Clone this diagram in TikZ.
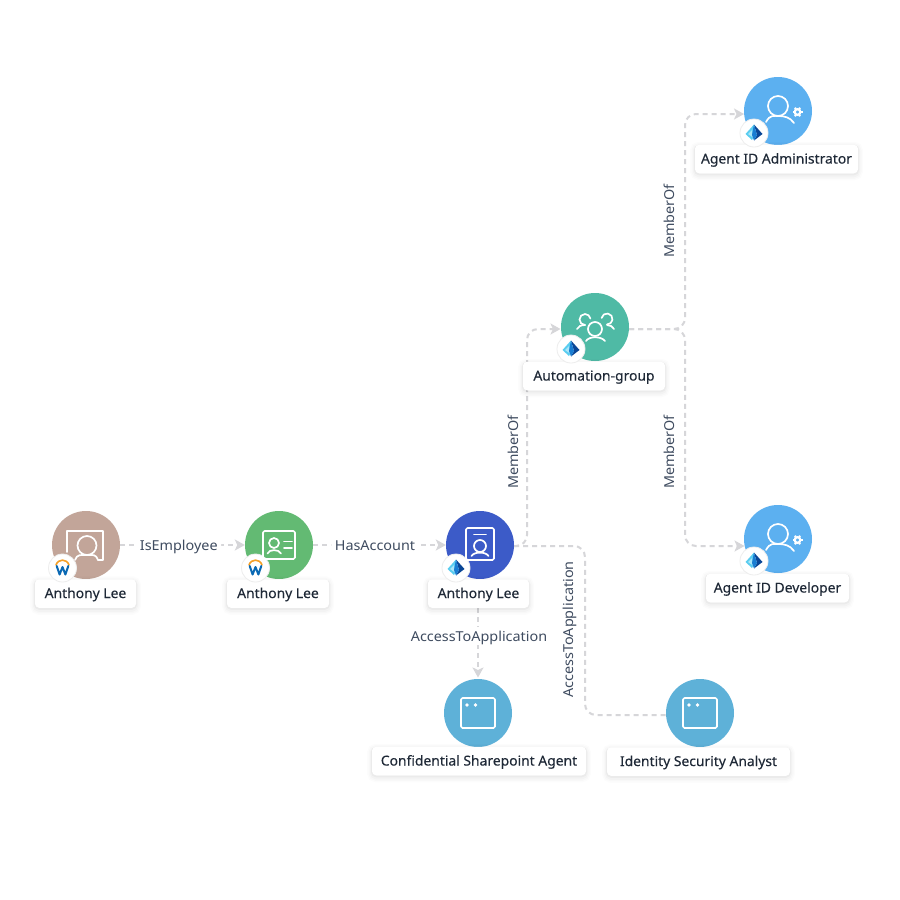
\documentclass[tikz,border=0pt]{standalone}
\usepackage{fontspec}
\setmainfont{Noto Sans}
\newfontfamily\boxfont{Noto Sans}[FakeBold=0.25,FakeStretch=1.02]
\newfontfamily\edgefont{Noto Sans}[FakeStretch=1.05]
\usetikzlibrary{arrows.meta}
\definecolor{edgegray}{HTML}{D6D6D9}
\definecolor{labtext}{HTML}{1F2937}
\definecolor{edgetext}{HTML}{3F4C60}
\definecolor{cTaupe}{HTML}{C2A599}
\definecolor{cGreen}{HTML}{63BA73}
\definecolor{cBlue}{HTML}{3C5BC8}
\definecolor{cTeal}{HTML}{4FBAA5}
\definecolor{cSky}{HTML}{5CB0F0}
\definecolor{cApp}{HTML}{5EB1D8}
\tikzset{
  ent/.style={circle,minimum size=68pt,inner sep=0pt,fill=#1},
  namebox/.style={rectangle,rounded corners=4pt,fill=white,inner sep=0pt,minimum height=28.5pt,text=labtext,
    text height=10pt,text depth=1pt,
    font=\boxfont\fontsize{13.6}{16}\selectfont,
    preaction={draw=black,draw opacity=.012,line width=10pt,transform canvas={yshift=-2pt}},
    preaction={draw=black,draw opacity=.016,line width=7pt,transform canvas={yshift=-2pt}},
    preaction={draw=black,draw opacity=.02,line width=4pt,transform canvas={yshift=-2pt}},
    preaction={draw=black,draw opacity=.03,line width=2pt,transform canvas={yshift=-1pt}}},
  badge/.style={circle,minimum size=28pt,inner sep=0pt,fill=white,draw=black!7,line width=.8pt},
  edge/.style={draw=edgegray,line width=2pt,dash pattern=on 5pt off 4pt,rounded corners=11pt},
  arrowed/.style={-{Stealth[length=10pt,width=11pt,inset=2.5pt,fill=edgegray]}},
  edgelab/.style={text=edgetext,font=\edgefont\fontsize{13.7}{16}\selectfont,inner sep=3.5pt},
  edgelabh/.style={edgelab,fill=white,text height=11pt,text depth=0pt},
  icon/.style={draw=white,line width=1.7pt,line cap=round,line join=round},
  azure/.pic={
    \fill[color={rgb,255:red,90;green,205;blue,240}] (0,-8.5) -- (-8.5,1) -- (-2,7) -- (0,3) -- cycle;
    \fill[color={rgb,255:red,170;green,230;blue,248}] (-2,-3) -- (-6,1) -- (-1,4.5) -- cycle;
    \fill[color={rgb,255:red,10;green,70;blue,150}] (0,-8.5) -- (8.5,1) -- (0,7.5) -- (3,2) -- cycle;
    \fill[color={rgb,255:red,25;green,125;blue,210}] (0,-8.5) -- (3,2) -- (0,7.5) -- (-2,2) -- cycle;
  },
  workday/.pic={
    \draw[color={rgb,255:red,245;green,160;blue,40},line width=1.6pt,line cap=round] (-6.5,-3) .. controls (-4.5,-9.5) and (4.5,-9.5) .. (6.5,-3);
    \draw[color={rgb,255:red,10;green,105;blue,180},line width=2pt,line join=round,line cap=round] (-5.8,-2) -- (-2.9,6.5) -- (0,-1) -- (2.9,6.5) -- (5.8,-2);
  },
  userglyph/.pic={
    \draw[icon] (0,-5) circle[radius=10];
    \draw[icon] (-12,11) .. controls (-8,3.5) and (-4,5) .. (0,5) .. controls (6,5) and (12,6) .. (16,12);
    \draw[white,line width=2.2pt] (19.5,1) circle[radius=2.8];
    \foreach \a in {0,60,120,180,240,300}
      \draw[white,line width=2pt] (19.5,1) ++(\a:2.8) -- ++(\a:2.2);
  }
}
\begin{document}
\begin{tikzpicture}[x=1pt,y=-1pt]
\useasboundingbox (0,0) rectangle (900,900);
\fill[white] (0,0) rectangle (900,900);

% connector anchors
\coordinate (bendA) at (527,546);
\coordinate (startA) at (514,546);
\coordinate (tipGroup) at (560.5,329);
\coordinate (startG) at (629,329);
\coordinate (tipAdm) at (744,114);
\coordinate (tipDev) at (744.5,546);
\coordinate (bendB) at (585,546);
\coordinate (endIsa) at (666,715);
\coordinate (startConf) at (478,608);
\coordinate (tipConf) at (478,677.5);

% connectors
\draw[edge,arrowed] (startA) -- (bendA) -- (527,329) -- (tipGroup);
\draw[edge,arrowed] (startG) -- (685,329) -- (685,114) -- (tipAdm);
\draw[edge,arrowed] (startG) -- (685,329) -- (685,546) -- (tipDev);
\draw[edge] (startA) -- (bendB) -- (585,715) -- (endIsa);

% entities
\node[ent=cTaupe] (emp) at (86,545) {};
\node[ent=cGreen] (acc) at (279,545) {};
\node[ent=cBlue] (usr) at (480,545) {};
\node[ent=cTeal] (grp) at (595,327) {};
\node[ent=cSky] (adm) at (778,111) {};
\node[ent=cSky] (dev) at (778,539) {};
\node[ent=cApp] (conf) at (478,713) {};
\node[ent=cApp] (isa) at (700,713) {};

% straight connectors with labels
\draw[edge,arrowed] (emp.east) -- (acc.west) node[pos=.47,edgelabh] (lblE) {IsEmployee};
\draw[edge,arrowed] (acc.east) -- (usr.west) node[pos=.466,edgelabh] (lblH) {HasAccount};
\draw[edge,arrowed] (startConf) -- (tipConf);
\node[edgelabh] (lblC) at (479,636) {AccessToApplication};
\node[edgelab,rotate=90] (lblM1) at (513,452) {MemberOf};
\node[edgelab,rotate=90] (lblM2) at (669,221) {MemberOf};
\node[edgelab,rotate=90] (lblM3) at (669,452) {MemberOf};
\node[edgelab,rotate=90] (lblA) at (570,629.5) {AccessToApplication};

% name boxes
\node[namebox,minimum width=101pt] (n1) at (85.5,593.5) {Anthony Lee};
\node[namebox,minimum width=102pt] (n2) at (278,593.5) {Anthony Lee};
\node[namebox,minimum width=101pt] (n3) at (478.5,593.5) {Anthony Lee};
\node[namebox,minimum width=142pt] (n4) at (594,376) {Automation-group};
\node[namebox,minimum width=163pt] (n5) at (776.5,159) {Agent ID Administrator};
\node[namebox,minimum width=143pt] (n6) at (777.5,588) {Agent ID Developer};
\node[namebox,minimum width=214pt] (n7) at (479,761) {Confidential Sharepoint Agent};
\node[namebox,minimum width=183pt] (n8) at (698.5,761.5) {Identity Security Analyst};

% badges
\node[badge] (b1) at (62.5,568) {};
\node[badge] (b2) at (255.5,568) {};
\node[badge] (b3) at (456,568) {};
\node[badge] (b4) at (571,349) {};
\node[badge] (b5) at (754,133) {};
\node[badge] (b6) at (754,561) {};
\pic at (b1) {workday};
\pic at (b2) {workday};
\pic at (b3) {azure};
\pic at (b4) {azure};
\pic at (b5) {azure};
\pic at (b6) {azure};

% glyph: employee
\draw[icon] (98,560) -- (103,560) -- (103,531) -- (67,531) -- (67,552);
\draw[icon] (87,545.5) circle[radius=9.5];
\draw[icon] (75,560) .. controls (77,554) and (81,555) .. (87,555) .. controls (93,555) and (96,554) .. (98,560);
% glyph: account
\draw[icon,rounded corners=1.5pt] (263,531) rectangle (295,559);
\draw[icon] (274,543) circle[radius=5];
\draw[icon] (267.5,553.5) .. controls (269,549) and (279,549) .. (281,553.5);
\draw[icon] (284,541.5) -- (292,541.5) (284,548) -- (292,548);
% glyph: directory user
\draw[icon,rounded corners=1.5pt] (466,528) rectangle (494,560);
\draw[icon] (474,534.5) -- (486,534.5);
\draw[icon] (480,546) circle[radius=6];
\draw[icon] (471.5,556) .. controls (474,551.5) and (486,551.5) .. (488.5,556);
% glyph: group
\draw[icon] (595,329) circle[radius=7];
\draw[icon] (586,341) .. controls (589,336) and (601,336) .. (605,341);
\draw[icon] (585,325) arc[start angle=90,end angle=350,radius=5.5];
\draw[icon] (601.6,318) arc[start angle=190,end angle=450,radius=5.5];
\draw[icon] (577,329) .. controls (578,326.5) and (581,325) .. (585,325);
\draw[icon] (614,329) .. controls (613,326.5) and (610,325) .. (607,325);
% glyph: roles
\pic at (adm) {userglyph};
\pic at (dev) {userglyph};
% glyph: apps
\draw[icon,rounded corners=1.5pt] (461,698) rectangle (495,728);
\fill[white] (467,705) circle[radius=1.8] (475.5,705) circle[radius=1.8];
\draw[icon,rounded corners=1.5pt] (683,698) rectangle (717,728);
\fill[white] (689,705) circle[radius=1.8] (697.5,705) circle[radius=1.8];
\end{tikzpicture}
\end{document}
